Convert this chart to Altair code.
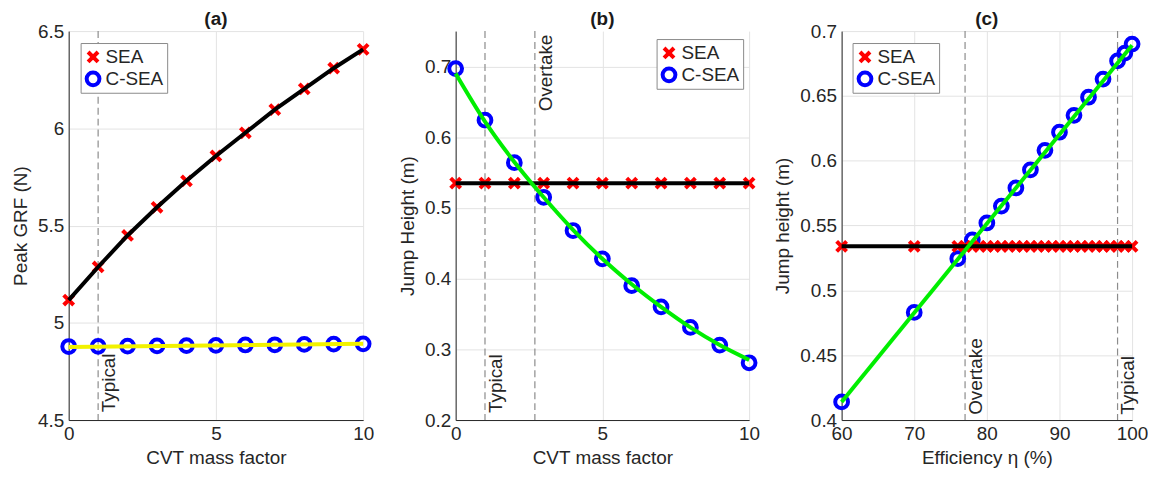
import altair as alt
import pandas as pd

# ---------------- data ----------------
# panel (a)
a_x = [0, 1, 2, 3, 4, 5, 6, 7, 8, 9, 10]
a_sea = [5.117, 5.287, 5.449, 5.594, 5.730, 5.858, 5.977, 6.096, 6.203, 6.309, 6.406]
a_csea = [4.878, 4.879, 4.880, 4.881, 4.883, 4.884, 4.886, 4.887, 4.889, 4.890, 4.892]
a_fit_x = [0, 10]
a_fit_csea = [4.876, 4.892]

# panel (b)
b_x = [0, 1, 2, 3, 4, 5, 6, 7, 8, 9, 10]
b_sea = [0.535, 0.535, 0.535, 0.535, 0.535, 0.535, 0.535, 0.535, 0.535, 0.535, 0.535]
b_csea = [0.697, 0.624, 0.564, 0.515, 0.468, 0.428, 0.390, 0.360, 0.331, 0.306, 0.281]
b_fit_csea = [0.690, 0.622, 0.565, 0.515, 0.469, 0.428, 0.392, 0.360, 0.331, 0.306, 0.285]

# panel (c)
c_sea_x = [60, 70, 76, 77, 78, 79, 80, 81, 82, 83, 84, 85, 86, 87, 88, 89, 90,
           91, 92, 93, 94, 95, 96, 97, 98, 99, 100]
c_sea_y = [0.534, 0.534, 0.534, 0.534, 0.534, 0.534, 0.534, 0.534, 0.534, 0.534,
           0.534, 0.534, 0.534, 0.534, 0.534, 0.534, 0.534, 0.534, 0.534, 0.534,
           0.534, 0.534, 0.534, 0.534, 0.534, 0.534, 0.534]
c_csea_x = [60, 70, 76, 78, 80, 82, 84, 86, 88, 90, 92, 94, 96, 98, 99, 100]
c_csea_y = [0.414, 0.483, 0.5245, 0.539, 0.552, 0.565, 0.579, 0.593, 0.608, 0.622,
            0.635, 0.649, 0.663, 0.677, 0.683, 0.690]
c_line_x = [60, 100]
c_sea_line = [0.534, 0.534]
c_fit_csea = [0.414, 0.689]

# reference markers
a_marks = [1]
a_mark_labels = ["Typical"]
b_marks = [1, 2.7]
b_mark_labels = ["Typical", "Overtake"]
c_marks = [77, 98]
c_mark_labels = ["Overtake", "Typical"]

series = ["SEA", "C-SEA"]

# ---------------- styling ----------------
FONT = "Liberation Sans"
FS = 19
TXT = "#262626"
XPATH = "M-1,-1L1,1M-1,1L1,-1"


def points_df(x_sea, y_sea, x_c, y_c):
    rows = [{"x": x, "y": y, "series": "C-SEA"} for x, y in zip(x_c, y_c)]
    rows += [{"x": x, "y": y, "series": "SEA"} for x, y in zip(x_sea, y_sea)]
    return pd.DataFrame(rows)


def panel(title, title_off, pts, sea_line, fit_line, fit_color, marks, mark_labels, mark_y,
          mark_align, xdom, xvals, ydom, yvals, xtitle, ytitle, leg_xy, w, h,
          fit_interp="linear"):
    xs = alt.Scale(domain=xdom, nice=False, zero=False)
    ys = alt.Scale(domain=ydom, nice=False, zero=False)
    xax = alt.Axis(values=xvals, format="~r", title=xtitle, labelFlush=False)
    yax = alt.Axis(values=yvals, format="~r", title=ytitle, labelFlush=False)
    legend = alt.Legend(title=None, orient="none", legendX=leg_xy[0], legendY=leg_xy[1],
                        strokeColor="#8a8a8a", fillColor="white", padding=3,
                        labelFontSize=FS, labelFont=FONT, labelColor=TXT,
                        symbolStrokeWidth=4, symbolSize=160, rowPadding=0,
                        clipHeight=22, labelOffset=3, symbolOffset=0)
    p = alt.Chart(pts).mark_point(filled=False, strokeWidth=4, opacity=1).encode(
        x=alt.X("x:Q", scale=xs, axis=xax),
        y=alt.Y("y:Q", scale=ys, axis=yax),
        color=alt.Color("series:N", scale=alt.Scale(domain=series, range=["#ff0000", "#0000ff"]),
                        legend=legend),
        shape=alt.Shape("series:N", scale=alt.Scale(domain=series, range=[XPATH, "circle"]),
                        legend=legend),
        size=alt.Size("series:N", scale=alt.Scale(domain=series, range=[100, 165]),
                      legend=None),
        order=alt.Order("ord:Q"),
    ).transform_calculate(ord="datum.series == 'C-SEA' ? 0 : 1")
    l1 = alt.Chart(sea_line).mark_line(color="#000000", strokeWidth=4).encode(
        x=alt.X("x:Q", scale=xs), y=alt.Y("y:Q", scale=ys))
    l2 = alt.Chart(fit_line).mark_line(color=fit_color, strokeWidth=4,
                                       interpolate=fit_interp).encode(
        x=alt.X("x:Q", scale=xs), y=alt.Y("y:Q", scale=ys))
    mdf = pd.DataFrame({"x": marks, "label": mark_labels, "y": mark_y, "al": mark_align})
    r = alt.Chart(mdf).mark_rule(color="#8c8c8c", strokeDash=[7, 4], strokeWidth=1.2).encode(
        x=alt.X("x:Q", scale=xs))
    layers = [r, p, l1, l2]
    for al in ["left", "right"]:
        sub = mdf[mdf["al"] == al]
        if len(sub):
            t = alt.Chart(sub).mark_text(angle=270, align=al, baseline="top", fontSize=FS,
                                         font=FONT, color=TXT, dy=2).encode(
                x=alt.X("x:Q", scale=xs), y=alt.Y("y:Q", scale=ys), text="label:N")
            layers.append(t)
    return alt.layer(*layers).properties(
        width=w, height=h,
        title=alt.TitleParams(title, fontSize=FS, fontWeight="bold", font=FONT,
                              color="#1a1a1a", offset=title_off, frame="group"))


A = panel("(a)", -7, points_df(a_x, a_sea, a_x, a_csea),
          pd.DataFrame({"x": a_x, "y": a_sea}),
          pd.DataFrame({"x": a_fit_x, "y": a_fit_csea}), "#f2f200",
          a_marks, a_mark_labels, [4.54], ["left"],
          [0, 10], [0, 5, 10], [4.5, 6.5], [4.5, 5, 5.5, 6, 6.5],
          "CVT mass factor", "Peak GRF (N)", (12, 12), 296, 391)

B = panel("(b)", 2, points_df(b_x, b_sea, b_x, b_csea),
          pd.DataFrame({"x": b_x, "y": b_sea}),
          pd.DataFrame({"x": b_x, "y": b_fit_csea}), "#00ee00",
          b_marks, b_mark_labels, [0.21, 0.745], ["left", "right"],
          [0, 10], [0, 5, 10], [0.2, 0.75], [0.2, 0.3, 0.4, 0.5, 0.6, 0.7],
          "CVT mass factor", "Jump Height (m)", (202, 8), 295, 391,
          fit_interp="monotone")

C = panel("(c)", -7, points_df(c_sea_x, c_sea_y, c_csea_x, c_csea_y),
          pd.DataFrame({"x": c_line_x, "y": c_sea_line}),
          pd.DataFrame({"x": c_line_x, "y": c_fit_csea}), "#00ee00",
          c_marks, c_mark_labels, [0.404, 0.404], ["left", "left"],
          [60, 100], [60, 70, 80, 90, 100], [0.4, 0.7],
          [0.4, 0.45, 0.5, 0.55, 0.6, 0.65, 0.7],
          "Efficiency  η  (%)", "Jump height (m)", (11, 12), 292, 391)

AB = alt.hconcat(A, B, spacing=20).resolve_scale(color="independent", shape="independent",
                                                 size="independent")
chart = alt.hconcat(AB, C, spacing=10).resolve_scale(
    color="independent", shape="independent", size="independent"
).properties(
    padding={"left": 3, "top": 0, "right": 0, "bottom": 0}
).configure_view(stroke=None).configure_axis(
    labelFont=FONT, titleFont=FONT, labelFontSize=FS, titleFontSize=FS,
    labelColor=TXT, titleColor=TXT, titleFontWeight="normal",
    domainColor="#262626", domainWidth=1, gridColor="#e3e3e3", gridWidth=1,
    ticks=False, labelPadding=5, titlePadding=5,
).configure_axisY(titlePadding=7)

chart.save("out.html", embed_options={"renderer": "svg", "actions": False})
